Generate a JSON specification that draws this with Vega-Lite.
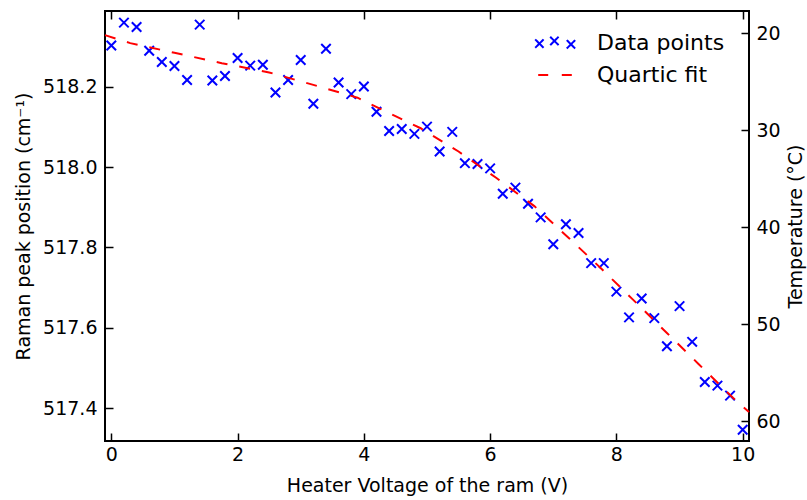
{
  "$schema": "https://vega.github.io/schema/vega-lite/v6.json",
  "autosize": "none",
  "width": 644,
  "height": 430,
  "padding": {"left": 105, "top": 11, "right": 58, "bottom": 59},
  "background": "white",
  "datasets": {
    "pts": [
      {"v": 0.0, "raman": 518.303}, {"v": 0.2, "raman": 518.360}, {"v": 0.4, "raman": 518.349},
      {"v": 0.6, "raman": 518.290}, {"v": 0.8, "raman": 518.262}, {"v": 1.0, "raman": 518.252},
      {"v": 1.2, "raman": 518.217}, {"v": 1.4, "raman": 518.355}, {"v": 1.6, "raman": 518.216},
      {"v": 1.8, "raman": 518.227}, {"v": 2.0, "raman": 518.272}, {"v": 2.2, "raman": 518.253},
      {"v": 2.4, "raman": 518.255}, {"v": 2.6, "raman": 518.186}, {"v": 2.8, "raman": 518.217},
      {"v": 3.0, "raman": 518.267}, {"v": 3.2, "raman": 518.158}, {"v": 3.4, "raman": 518.295},
      {"v": 3.6, "raman": 518.211}, {"v": 3.8, "raman": 518.182}, {"v": 4.0, "raman": 518.201},
      {"v": 4.2, "raman": 518.138}, {"v": 4.4, "raman": 518.090}, {"v": 4.6, "raman": 518.095},
      {"v": 4.8, "raman": 518.083}, {"v": 5.0, "raman": 518.101}, {"v": 5.2, "raman": 518.039},
      {"v": 5.4, "raman": 518.088}, {"v": 5.6, "raman": 518.010}, {"v": 5.8, "raman": 518.008},
      {"v": 6.0, "raman": 517.997}, {"v": 6.2, "raman": 517.934}, {"v": 6.4, "raman": 517.949},
      {"v": 6.6, "raman": 517.909}, {"v": 6.8, "raman": 517.875}, {"v": 7.0, "raman": 517.808},
      {"v": 7.2, "raman": 517.858}, {"v": 7.4, "raman": 517.836}, {"v": 7.6, "raman": 517.761},
      {"v": 7.8, "raman": 517.761}, {"v": 8.0, "raman": 517.690}, {"v": 8.2, "raman": 517.626},
      {"v": 8.4, "raman": 517.673}, {"v": 8.6, "raman": 517.624}, {"v": 8.8, "raman": 517.554},
      {"v": 9.0, "raman": 517.654}, {"v": 9.2, "raman": 517.565}, {"v": 9.4, "raman": 517.465},
      {"v": 9.6, "raman": 517.456}, {"v": 9.8, "raman": 517.431}, {"v": 10.0, "raman": 517.346}
    ],
    "fit": [
      {"v": -0.1, "raman": 518.329}, {"v": 0.3, "raman": 518.309}, {"v": 1.0, "raman": 518.285},
      {"v": 1.75, "raman": 518.259}, {"v": 2.5, "raman": 518.236}, {"v": 3.2, "raman": 518.205},
      {"v": 3.9, "raman": 518.173}, {"v": 4.5, "raman": 518.127}, {"v": 4.9, "raman": 518.097},
      {"v": 5.5, "raman": 518.039}, {"v": 6.1, "raman": 517.973}, {"v": 6.7, "raman": 517.903},
      {"v": 7.25, "raman": 517.823}, {"v": 7.75, "raman": 517.749}, {"v": 8.25, "raman": 517.672},
      {"v": 8.8, "raman": 517.587}, {"v": 9.3, "raman": 517.510}, {"v": 9.85, "raman": 517.425},
      {"v": 10.1, "raman": 517.390}
    ],
    "series": [
      {"series": "Data points"}, {"series": "Quartic fit"}
    ]
  },
  "layer": [
    {
      "data": {"name": "pts"},
      "mark": {"type": "point", "shape": "M-1,-1L1,1M-1,1L1,-1", "filled": false, "strokeWidth": 2, "size": 90, "opacity": 1, "color": "#0000ff"},
      "encoding": {
        "x": {
          "field": "v", "type": "quantitative",
          "scale": {"domain": [-0.1, 10.1], "nice": false, "zero": false},
          "axis": {"orient": "bottom", "values": [0, 2, 4, 6, 8, 10], "format": "d", "labelPadding": 12, "title": "Heater Voltage of the ram (V)", "titlePadding": 12}
        },
        "y": {
          "field": "raman", "type": "quantitative",
          "scale": {"domain": [517.318, 518.389], "nice": false, "zero": false},
          "axis": {"orient": "left", "values": [517.4, 517.6, 517.8, 518.0, 518.2], "format": ".1f", "labelPadding": 16, "title": "Raman peak position (cm⁻¹)", "titlePadding": 9}
        }
      }
    },
    {
      "data": {"name": "fit"},
      "mark": {"type": "line", "strokeDash": [11, 12], "strokeWidth": 2, "color": "#ff0000"},
      "encoding": {
        "x": {
          "field": "v", "type": "quantitative",
          "scale": {"domain": [-0.1, 10.1], "nice": false, "zero": false},
          "axis": {"orient": "top", "values": [0, 2, 4, 6, 8, 10], "labels": false, "title": null}
        },
        "y": {
          "field": "raman", "type": "quantitative",
          "scale": {"domain": [517.318, 518.389], "nice": false, "zero": false},
          "axis": null
        }
      }
    },
    {
      "data": {"name": "series"},
      "mark": {"type": "point", "filled": false, "strokeWidth": 2, "opacity": 0},
      "encoding": {
        "color": {
          "field": "series", "type": "nominal",
          "scale": {"domain": ["Data points", "Quartic fit"], "range": ["#0000ff", "#ff0000"]},
          "legend": {
            "orient": "none", "legendX": 437, "legendY": 19, "padding": 0,
            "title": null, "symbolSize": 576, "symbolOpacity": 1, "symbolStrokeWidth": 2,
            "labelFontSize": 22, "labelFont": "DejaVu Sans", "labelColor": "black",
            "labelOffset": 29, "rowPadding": 8, "labelLimit": 400
          }
        },
        "shape": {
          "field": "series", "type": "nominal",
          "scale": {"domain": ["Data points", "Quartic fit"], "range": ["M-1.65,-0.3L-0.95,0.4M-1.65,0.4L-0.95,-0.3M-0.4,-0.52L0.3,0.18M-0.4,0.18L0.3,-0.52M0.98,-0.24L1.68,0.46M0.98,0.46L1.68,-0.24", "M-1.4,0L1.4,0"]},
          "legend": {
            "orient": "none", "legendX": 437, "legendY": 19, "padding": 0,
            "title": null, "symbolSize": 576, "symbolOpacity": 1, "symbolStrokeWidth": 2,
            "labelFontSize": 22, "labelFont": "DejaVu Sans", "labelColor": "black",
            "labelOffset": 29, "rowPadding": 8, "labelLimit": 400
          }
        },
        "strokeDash": {
          "field": "series", "type": "nominal",
          "scale": {"domain": ["Data points", "Quartic fit"], "range": [[1, 0], [10, 13.6]]},
          "legend": {
            "orient": "none", "legendX": 437, "legendY": 19, "padding": 0,
            "title": null, "symbolSize": 576, "symbolOpacity": 1, "symbolStrokeWidth": 2,
            "labelFontSize": 22, "labelFont": "DejaVu Sans", "labelColor": "black",
            "labelOffset": 29, "rowPadding": 8, "labelLimit": 400
          }
        }
      }
    },
    {
      "mark": {"type": "rule", "opacity": 0},
      "encoding": {
        "y": {
          "datum": 40, "type": "quantitative",
          "scale": {"domain": [17.70, 62.06], "nice": false, "zero": false, "reverse": true},
          "axis": {"orient": "right", "values": [20, 30, 40, 50, 60], "format": "d", "labelPadding": 15, "title": "Temperature (°C)", "titleAngle": 270, "titlePadding": 25}
        }
      }
    }
  ],
  "resolve": {"scale": {"y": "independent"}, "axis": {"x": "independent", "y": "independent"}},
  "config": {
    "font": "DejaVu Sans",
    "view": {"stroke": "black", "strokeWidth": 2},
    "axis": {
      "labelFont": "DejaVu Sans", "labelFontSize": 19, "labelColor": "black",
      "titleFont": "DejaVu Sans", "titleFontSize": 19, "titleFontWeight": "normal", "titleColor": "black",
      "tickColor": "black", "tickSize": -8, "tickWidth": 1.5, "domain": false, "grid": false
    }
  }
}
